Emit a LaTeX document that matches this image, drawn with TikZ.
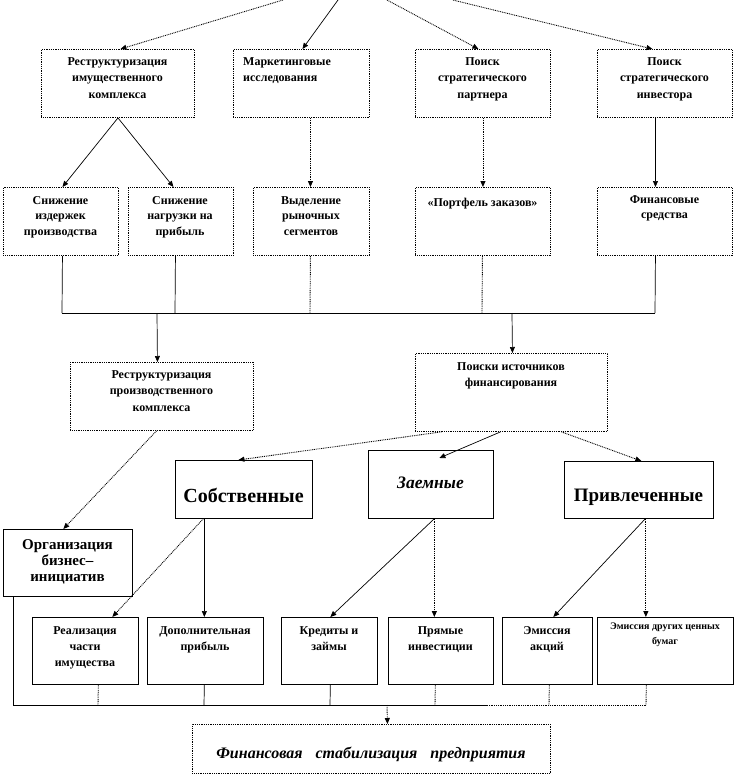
\documentclass[tikz,border=0pt]{standalone}
\usepackage{fontspec}
\setmainfont{Liberation Serif}
\usetikzlibrary{arrows.meta}
\begin{document}
\begin{tikzpicture}[x=1pt,y=-1pt,
  box/.style={draw, line width=0.7pt, inner sep=0pt, anchor=north west},
  dbox/.style={box, line width=0.9pt, dash pattern=on 0.9pt off 0.9pt},
  sbox/.style={box},
  txt/.style={font=\fontsize{12}{16.5}\selectfont\bfseries, align=center, inner sep=0pt, anchor=north},
  txtb/.style={txt, font=\fontsize{12}{15.5}\selectfont\bfseries},
  txtf/.style={txt, font=\fontsize{12}{16}\selectfont\bfseries},
  conn/.style={line width=0.7pt},
  dconn/.style={line width=0.9pt, dash pattern=on 0.9pt off 0.9pt},
  arr/.style={-{Triangle[length=6pt,width=5pt]}}]
\useasboundingbox (0,0) rectangle (735,776);

% ---------- boxes ----------
\node[dbox, minimum width=153pt, minimum height=68pt] (a1) at (41,49) {};
\node[dbox, minimum width=136pt, minimum height=68pt] (a2) at (233,49) {};
\node[dbox, minimum width=135pt, minimum height=68pt] (a3) at (415,49) {};
\node[dbox, minimum width=135pt, minimum height=68pt] (a4) at (597,49) {};

\node[dbox, minimum width=115pt, minimum height=68pt] (b1) at (3,187) {};
\node[dbox, minimum width=105pt, minimum height=68pt] (b2) at (128,187) {};
\node[dbox, minimum width=116pt, minimum height=68pt] (b3) at (253,187) {};
\node[dbox, minimum width=135pt, minimum height=68pt] (b4) at (415,187) {};
\node[dbox, minimum width=135pt, minimum height=68pt] (b5) at (597,187) {};

\node[dbox, minimum width=183pt, minimum height=68pt] (c1) at (70,362) {};
\node[dbox, minimum width=192pt, minimum height=78pt] (c2) at (415,353) {};

\node[sbox, minimum width=137pt, minimum height=58pt] (d1) at (175,460) {};
\node[sbox, minimum width=125pt, minimum height=68pt] (d2) at (368,450) {};
\node[sbox, minimum width=149pt, minimum height=57pt] (d3) at (564,461) {};

\node[sbox, minimum width=129pt, minimum height=67pt] (e0) at (3,529) {};

\node[sbox, minimum width=106pt, minimum height=67pt] (f1) at (32,617) {};
\node[sbox, minimum width=116pt, minimum height=67pt] (f2) at (147,617) {};
\node[sbox, minimum width=96pt, minimum height=67pt] (f3) at (281,617) {};
\node[sbox, minimum width=105pt, minimum height=67pt] (f4) at (388,617) {};
\node[sbox, minimum width=90pt, minimum height=67pt] (f5) at (502,617) {};
\node[sbox, minimum width=136pt, minimum height=67pt] (f6) at (597,617) {};

\node[dbox, minimum width=358pt, minimum height=49pt] (g) at (192,724) {};

% ---------- texts ----------
\node[txt] (a1t) at (117.5,57) {Реструктуризация\\имущественного\\комплекса};
\node[txt, anchor=north west, align=left] (a2t) at (243,57) {Маркетинговые\\исследования};
\node[txt] (a3t) at (482.5,57) {Поиск\\стратегического\\партнера};
\node[txt] (a4t) at (664.5,57) {Поиск\\стратегического\\инвестора};

\node[txtb] (b1t) at (60.5,196) {Снижение\\издержек\\производства};
\node[txtb] (b2t) at (180,196) {Снижение\\нагрузки на\\прибыль};
\node[txtb] (b3t) at (311,196) {Выделение\\рыночных\\сегментов};
\node[txtb] (b4t) at (482.5,198) {«Портфель заказов»};
\node[txtb] (b5t) at (664.5,195) {Финансовые\\средства};

\node[txt] (c1t) at (161.5,370) {Реструктуризация\\производственного\\комплекса};
\node[txt] (c2t) at (511,362) {Поиски источников\\финансирования};

\node[inner sep=0pt, anchor=base, font=\fontsize{20}{24}\selectfont\bfseries] (d1t) at (243.5,502) {Собственные};
\node[inner sep=0pt, anchor=base, font=\fontsize{17.5}{20}\selectfont\bfseries\itshape] (d2t) at (430.5,488) {Заемные};
\node[inner sep=0pt, anchor=base, font=\fontsize{19}{22}\selectfont\bfseries] (d3t) at (638.5,501) {Привлеченные};

\node[txt, font=\fontsize{15}{16}\selectfont\bfseries] (e0t) at (67.5,539) {Организация\\бизнес–\\инициатив};

\node[txtf] (f1t) at (85,626) {Реализация\\части\\имущества};
\node[txtf] (f2t) at (205,626) {Дополнительная\\прибыль};
\node[txtf] (f3t) at (329,626) {Кредиты и\\займы};
\node[txtf] (f4t) at (440.5,626) {Прямые\\инвестиции};
\node[txtf] (f5t) at (547,626) {Эмиссия\\акций};
\node[txt, font=\fontsize{10}{15}\selectfont\bfseries] (f6t) at (665,623) {Эмиссия других ценных\\бумаг};

\node[inner sep=0pt, anchor=base, font=\fontsize{16}{19}\selectfont\bfseries\itshape] (gt) at (371,758) {Финансовая\hspace{9pt} стабилизация\hspace{9pt} предприятия};

% ---------- top incoming arrows ----------
\coordinate (t1) at (283,0);
\coordinate (t2) at (338,0);
\coordinate (t3) at (387,0);
\coordinate (t4) at (453,0);
\draw[dconn,arr] (t1) -- ([xshift=2.5pt]a1.north);
\draw[conn,arr] (t2) -- ([xshift=1pt]a2.north);
\draw[dconn,arr] (t3) -- ([xshift=-4.5pt]a3.north);
\draw[dconn,arr] (t4) -- ([xshift=-12.5pt]a4.north);

% ---------- row A -> row B ----------
\draw[conn,arr] (a1.south) -- ([xshift=1.5pt]b1.north);
\draw[conn,arr] (a1.south) -- ([xshift=-7.5pt]b2.north);
\draw[dconn,arr] ([xshift=9pt]a2.south) -- ([xshift=-1pt]b3.north);
\draw[dconn,arr] (a3.south) -- (b4.north);
\draw[conn,arr] ([xshift=-9.5pt]a4.south) -- ([xshift=-9.5pt]b5.north);

% ---------- bus 1 ----------
\coordinate (k1) at (62,313);
\coordinate (k2) at (175,313);
\coordinate (k3) at (310,313);
\coordinate (k4) at (482,313);
\coordinate (k5) at (655,313);
\coordinate (k6) at (157,313);
\coordinate (k7) at (512,313);
\draw[conn] ([xshift=1.5pt]b1.south) -- (k1);
\draw[conn] ([xshift=-5.5pt]b2.south) -- (k2);
\draw[dconn] ([xshift=-1pt]b3.south) -- (k3);
\draw[dconn] ([xshift=-0.5pt]b4.south) -- (k4);
\draw[conn] ([xshift=-9.5pt]b5.south) -- (k5);
\draw[conn] (k1) -- (k5);
\draw[conn,arr] (k6) -- ([xshift=-4.5pt]c1.north);
\draw[conn,arr] (k7) -- ([xshift=1pt]c2.north);

% ---------- row C -> row D / E ----------
\draw[dconn,arr] ([xshift=-5.5pt]c1.south) -- ([xshift=-4.5pt]e0.north);
\draw[dconn,arr] ([xshift=-70pt]c2.south) -- ([xshift=-5.5pt]d1.north);
\draw[conn,arr] ([xshift=-11pt]c2.south) -- ([xshift=8.5pt,yshift=-8pt]d2.north);
\draw[dconn,arr] ([xshift=50pt]c2.south) -- ([xshift=2.5pt]d3.north);

% ---------- row D -> row F ----------
\draw[dconn,arr] ([xshift=-40.5pt]d1.south) -- ([xshift=27pt]f1.north);
\draw[conn,arr] ([xshift=-39.5pt]d1.south) -- ([xshift=-1pt]f2.north);
\draw[conn,arr] ([xshift=3.5pt]d2.south) -- ([xshift=1pt]f3.north);
\draw[dconn,arr] ([xshift=3.5pt]d2.south) -- ([xshift=-6.5pt]f4.north);
\draw[conn,arr] ([xshift=6.5pt]d3.south) -- ([xshift=6pt]f5.north);
\draw[dconn,arr] ([xshift=7pt]d3.south) -- ([xshift=-19.5pt]f6.north);

% ---------- bus 2 ----------
\coordinate (m0) at (13,705);
\coordinate (m1) at (98,705);
\coordinate (m2) at (204,705);
\coordinate (m3) at (330,705);
\coordinate (m4) at (435,705);
\coordinate (m5) at (549,705);
\coordinate (m6) at (646,705);
\coordinate (mc) at (487,705);
\coordinate (mg) at (387,705);
\draw[conn] ([xshift=10pt]e0.south west) -- (m0);
\draw[dconn] ([xshift=13pt]f1.south) -- (m1);
\draw[conn] ([xshift=-1pt]f2.south) -- (m2);
\draw[conn] ([xshift=1pt]f3.south) -- (m3);
\draw[dconn] ([xshift=-5.5pt]f4.south) -- (m4);
\draw[dconn] ([xshift=2pt]f5.south) -- (m5);
\draw[dconn] ([xshift=-19pt]f6.south) -- (m6);
\draw[conn] (m0) -- (mc);
\draw[dconn] (mc) -- (m6);
\draw[dconn,arr] (mg) -- ([xshift=16pt]g.north);
\end{tikzpicture}
\end{document}
